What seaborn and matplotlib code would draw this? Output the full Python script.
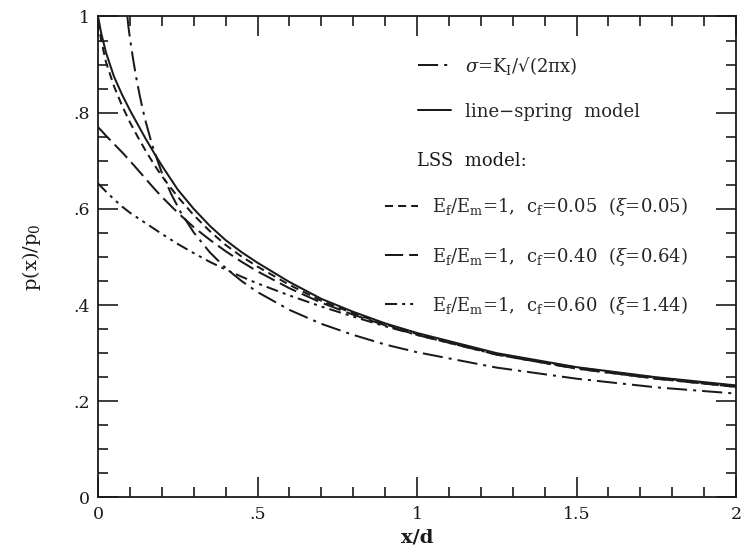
import numpy as np
import pandas as pd
import matplotlib
matplotlib.use("Agg")
import matplotlib.pyplot as plt
from matplotlib.lines import Line2D
from matplotlib.ticker import MultipleLocator, FixedLocator, FixedFormatter
import seaborn as sns

# ---------------- data ----------------
x_sing = [0.092, 0.095, 0.10, 0.11, 0.12, 0.13, 0.14, 0.15, 0.17, 0.20, 0.23, 0.26, 0.30, 0.35,
          0.40, 0.45, 0.50, 0.60, 0.70, 0.80, 0.90, 1.00, 1.25, 1.50, 1.75, 2.00]
p_sing = [1.000, 0.980, 0.955, 0.911, 0.872, 0.838, 0.807, 0.780, 0.732, 0.675, 0.630, 0.592, 0.551, 0.510,
          0.477, 0.450, 0.427, 0.390, 0.361, 0.338, 0.318, 0.302, 0.270, 0.247, 0.229, 0.216]

x_lss = [0.0, 0.01, 0.025, 0.05, 0.075, 0.10, 0.125, 0.15, 0.175, 0.20, 0.25, 0.30, 0.35,
         0.40, 0.45, 0.50, 0.60, 0.70, 0.80, 0.90, 1.00, 1.25, 1.50, 1.75, 2.00]
p_spring = [1.000, 0.965, 0.925, 0.875, 0.838, 0.805, 0.775, 0.745, 0.717, 0.690, 0.640, 0.600, 0.565,
            0.535, 0.510, 0.488, 0.448, 0.413, 0.386, 0.362, 0.342, 0.300, 0.271, 0.250, 0.233]
p_c005 = [0.990, 0.950, 0.905, 0.855, 0.815, 0.780, 0.749, 0.720, 0.693, 0.668, 0.625, 0.587, 0.554,
          0.525, 0.501, 0.480, 0.442, 0.409, 0.383, 0.360, 0.340, 0.298, 0.270, 0.249, 0.231]
p_c040 = [0.770, 0.763, 0.752, 0.735, 0.718, 0.700, 0.681, 0.662, 0.643, 0.625, 0.592, 0.562, 0.536,
          0.512, 0.490, 0.470, 0.435, 0.405, 0.380, 0.358, 0.338, 0.297, 0.268, 0.247, 0.230]
p_c060 = [0.653, 0.646, 0.636, 0.620, 0.605, 0.592, 0.581, 0.570, 0.559, 0.548, 0.527, 0.508, 0.490,
          0.474, 0.459, 0.445, 0.420, 0.397, 0.376, 0.356, 0.338, 0.297, 0.268, 0.247, 0.230]

labels = [
    r"$\sigma$=K$_\mathrm{I}$/√(2πx)",
    "line−spring  model",
    "LSS  model:",
    r"E$_\mathrm{f}$/E$_\mathrm{m}$=1,  c$_\mathrm{f}$=0.05  ($\xi$=0.05)",
    r"E$_\mathrm{f}$/E$_\mathrm{m}$=1,  c$_\mathrm{f}$=0.40  ($\xi$=0.64)",
    r"E$_\mathrm{f}$/E$_\mathrm{m}$=1,  c$_\mathrm{f}$=0.60  ($\xi$=1.44)",
]

xtick_vals = [0, 0.5, 1, 1.5, 2]
xtick_labels = ["0", ".5", "1", "1.5", "2"]
ytick_vals = [0, 0.2, 0.4, 0.6, 0.8, 1.0]
ytick_labels = ["0", ".2", ".4", ".6", ".8", "1"]

# ---------------- style ----------------
sns.set_theme(style="ticks")
plt.rcParams["font.family"] = ["DejaVu Serif"]
plt.rcParams["mathtext.fontset"] = "dejavuserif"

fig = plt.figure(figsize=(7.41, 5.51), dpi=100)
ax = fig.add_axes([0.1323, 0.0971, 0.8610, 0.8730])

lw = 1.45
ls_sing = (0, (10, 3, 1.5, 3))
ls_spring = "-"
ls_c005 = (0, (4, 2.5))
ls_c040 = (0, (9, 3))
ls_c060 = (0, (6, 2.5, 1.5, 2.5, 1.5, 2.5))

df_sing = pd.DataFrame({"x": x_sing, "p": p_sing})
df_lss = pd.DataFrame({"x": x_lss, "spring": p_spring, "c005": p_c005,
                       "c040": p_c040, "c060": p_c060})

sns.lineplot(data=df_sing, x="x", y="p", ax=ax, color="k", lw=lw, ls=ls_sing)
sns.lineplot(data=df_lss, x="x", y="spring", ax=ax, color="k", lw=lw, ls=ls_spring)
sns.lineplot(data=df_lss, x="x", y="c005", ax=ax, color="k", lw=lw, ls=ls_c005)
sns.lineplot(data=df_lss, x="x", y="c040", ax=ax, color="k", lw=lw, ls=ls_c040)
sns.lineplot(data=df_lss, x="x", y="c060", ax=ax, color="k", lw=lw, ls=ls_c060)

ax.set_xlim(0, 2)
ax.set_ylim(0, 1)

ax.xaxis.set_major_locator(FixedLocator(xtick_vals))
ax.xaxis.set_major_formatter(FixedFormatter(xtick_labels))
ax.yaxis.set_major_locator(FixedLocator(ytick_vals))
ax.yaxis.set_major_formatter(FixedFormatter(ytick_labels))
ax.xaxis.set_minor_locator(MultipleLocator(0.1))
ax.yaxis.set_minor_locator(MultipleLocator(0.05))

ax.tick_params(which="both", direction="in", top=True, right=True,
               color="k", width=1.2, labelsize=12.5, labelcolor="k")
ax.tick_params(which="major", length=14.5, pad=6)
ax.tick_params(which="minor", length=7.5)
for s in ax.spines.values():
    s.set_color("k")
    s.set_linewidth(1.3)

ax.set_xlabel("x/d", fontsize=14, fontweight="bold", color="k", labelpad=4)
ax.set_ylabel("p(x)/p$_\\mathrm{0}$", fontsize=14, color="k", labelpad=22)

# ---------------- legend ----------------
fs = 13
hA = [Line2D([], [], color="k", lw=lw, ls=ls_sing),
      Line2D([], [], color="k", lw=lw, ls=ls_spring)]
legA = ax.legend(hA, labels[:2], loc="center left", bbox_to_anchor=(0.502, 0.852),
                 frameon=False, fontsize=fs, handlelength=1.8, handletextpad=0.8,
                 labelspacing=1.45, borderpad=0, borderaxespad=0)
ax.add_artist(legA)

ax.text(0.500, 0.700, labels[2], transform=ax.transAxes, fontsize=fs,
        ha="left", va="center", color="k")

hB = [Line2D([], [], color="k", lw=lw, ls=ls_c005),
      Line2D([], [], color="k", lw=lw, ls=ls_c040),
      Line2D([], [], color="k", lw=lw, ls=ls_c060)]
ax.legend(hB, labels[3:], loc="center left", bbox_to_anchor=(0.450, 0.502),
          frameon=False, fontsize=fs, handlelength=1.8, handletextpad=0.8,
          labelspacing=1.45, borderpad=0, borderaxespad=0)

fig.savefig("out.png", dpi=100)
